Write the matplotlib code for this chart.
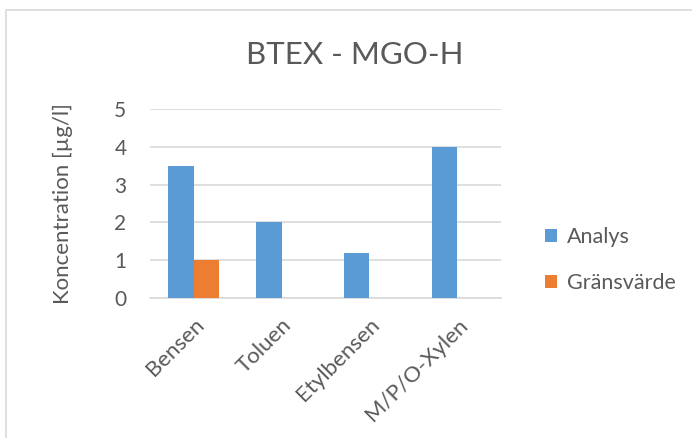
import numpy as np
import matplotlib.pyplot as plt
from matplotlib.patches import Rectangle

plt.rcParams['font.family'] = ['Lato', 'DejaVu Sans']

# BTEX results for MGO-H
categories = ['Bensen', 'Toluen', 'Etylbensen', 'M/P/O-Xylen']
analys = [3.5, 2.0, 1.2, 4.0]
gransvarde = [1.0, np.nan, np.nan, np.nan]
yticks = [0, 1, 2, 3, 4, 5]

blue = '#5B9BD5'
orange = '#ED7D31'
grid = '#D9D9D9'
text = '#595959'

fig = plt.figure(figsize=(6.92, 4.38), dpi=100)
ax = fig.add_axes([0.2168, 0.3196, 0.5072, 0.4315])

# outer chart border
fig.patches.append(Rectangle((6 / 692, -0.05), 1.0, 1 - 10 / 438 + 0.05,
                             transform=fig.transFigure, fill=False,
                             edgecolor=grid, linewidth=1.2))

x = np.arange(len(categories))
w = 0.29
ax.bar(x - w / 2, analys, w, color=blue, label='Analys', zorder=3)
ax.bar(x + w / 2, gransvarde, w, color=orange, label='Gränsvärde', zorder=3)

ax.set_xlim(-0.5, len(categories) - 0.5)
ax.set_ylim(0, 5)
ax.set_yticks(yticks)
ax.yaxis.grid(True, color=grid, linewidth=1.2, zorder=0)
ax.tick_params(axis='both', length=0, colors=text, labelsize=15)
ax.tick_params(axis='y', pad=17)
ax.set_xticks(x)
ax.set_xticklabels(categories, rotation=45, ha='right', rotation_mode='anchor',
                   fontsize=16)
ax.tick_params(axis='x', pad=12)

for side in ['top', 'right', 'left']:
    ax.spines[side].set_visible(False)
ax.spines['bottom'].set_color(grid)
ax.spines['bottom'].set_linewidth(1.2)

ax.set_ylabel('Koncentration [µg/l]', color=text, fontsize=16, labelpad=30)
fig.text(355 / 692, 1 - 55 / 438, 'BTEX - MGO-H', color=text, fontsize=22.5,
         ha='center', va='center')

fig.legend(loc='center left', bbox_to_anchor=(526 / 692, 1 - 260 / 438),
           frameon=False, fontsize=15.5, labelcolor=text, handlelength=0.55,
           handleheight=0.55, handletextpad=0.45, labelspacing=1.2)

fig.savefig('out.png', dpi=100)
